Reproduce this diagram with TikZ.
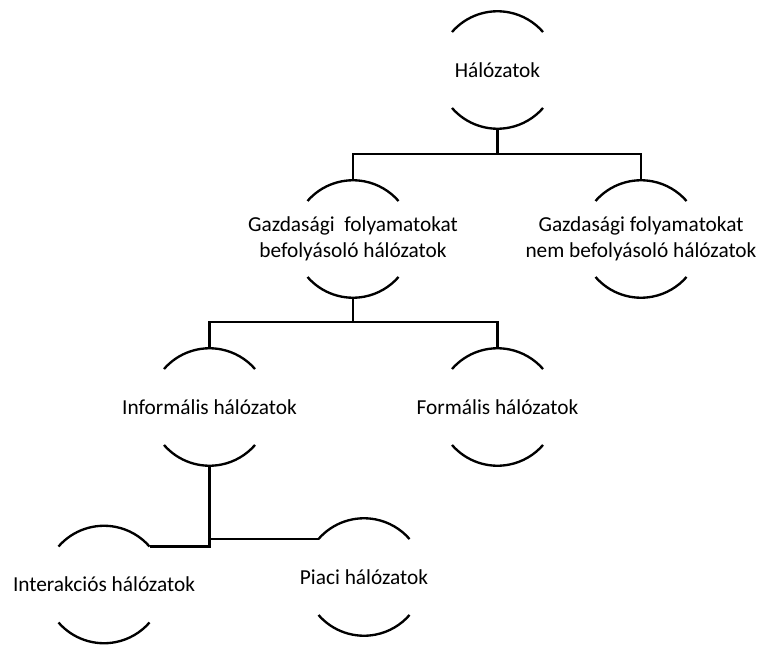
\documentclass[tikz,border=0pt]{standalone}
\usepackage{fontspec}
\setmainfont{Carlito}
\usetikzlibrary{calc}
\begin{document}
\begin{tikzpicture}[x=0.75pt,y=0.75pt,
  line width=1.75pt,
  lbl/.style={inner sep=0pt,align=center,font=\fontsize{16pt}{19.5pt}\selectfont}]
\useasboundingbox (0,0) rectangle (760,644);
\newcommand\bub[3]{%
  \node[lbl] (#1) at (#2) {#3};
  \coordinate (#1-tl) at ($(#2)+(-45.5,38)$);
  \coordinate (#1-tr) at ($(#2)+(45.5,38)$);
  \coordinate (#1-t)  at ($(#2)+(0,59)$);
  \coordinate (#1-bl) at ($(#2)+(-45.5,-38)$);
  \coordinate (#1-b)  at ($(#2)+(0,-59)$);
  \draw (#1-tl) arc[start angle=139,end angle=41,radius=60.3];
  \draw (#1-bl) arc[start angle=221,end angle=319,radius=60.3];
}
\bub{A}{497.5,574}{Hálózatok}
\bub{B}{353,405}{Gazdasági\ \ folyamatokat\\befolyásoló hálózatok}
\bub{C}{641,405}{Gazdasági folyamatokat\\nem befolyásoló hálózatok}
\bub{D}{209.5,237}{Informális hálózatok}
\bub{E}{497.5,237}{Formális hálózatok}
\bub{F}{104,59.5}{Interakciós hálózatok}
\bub{G}{364,67}{Piaci hálózatok}
\coordinate (j1) at (0,490);
\coordinate (j2) at (0,322);
\draw (A-b) -- (A-b |- j1);
\draw (B-t) -- (B-t |- j1) -- (C-t |- j1) -- (C-t);
\draw (B-b) -- (B-b |- j2);
\draw (D-t) -- (D-t |- j2) -- (E-t |- j2) -- (E-t);
\draw (D-b) -- (D-b |- F-tr) -- (F-tr);
\draw (D-b |- G-tl) -- (G-tl);
\end{tikzpicture}
\end{document}
